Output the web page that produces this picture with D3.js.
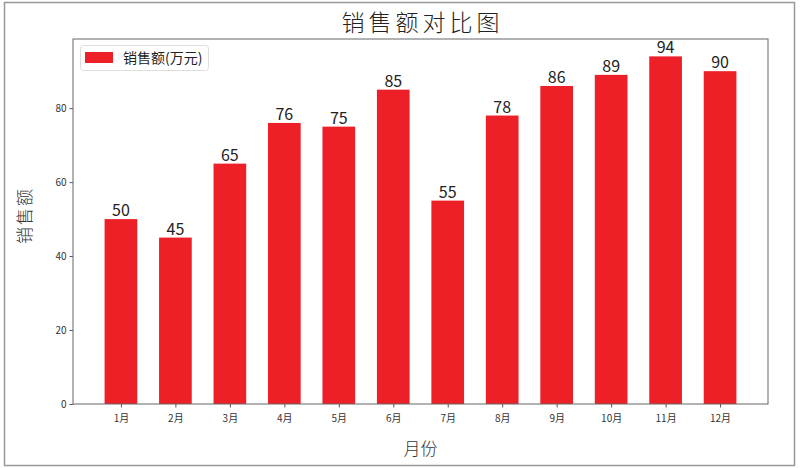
<!DOCTYPE html>
<html><head><meta charset="utf-8">
<script src="https://cdn.jsdelivr.net/npm/d3@7"></script>
<style>body{margin:0;background:#fff;}svg{display:block;}</style>
</head><body>
<script>
const months = ["1月","2月","3月","4月","5月","6月","7月","8月","9月","10月","11月","12月"];
const sales = [50,45,65,76,75,85,55,78,86,89,94,90];
const yTicks = [0,20,40,60,80];
const title = "销售额对比图";
const xLabel = "月份";
const yLabel = "销售额";
const legendLabel = "销售额(万元)";

const W = 800, H = 468;
const m = {l:73, r:32, t:39, b:64};
const svg = d3.select("body").append("svg").attr("width", W).attr("height", H);
const font = "'Noto Sans CJK SC', 'Noto Sans', sans-serif";
const barColor = "#ED1F27";

svg.append("rect").attr("x",4.5).attr("y",2.5).attr("width",790).attr("height",463)
  .attr("fill","#fff").attr("stroke","#999").attr("stroke-width",1.5);

const pw = W - m.l - m.r, ph = H - m.t - m.b;
const g = svg.append("g").attr("transform",`translate(${m.l},${m.t})`);

const n = months.length, bw = 0.6;
const span = (n - 1) + bw;
const x = d3.scaleLinear().domain([-bw/2 - 0.05*span, n-1 + bw/2 + 0.05*span]).range([0,pw]);
const ymax = d3.max(sales)*1.05;
const y = d3.scaleLinear().domain([0, ymax]).range([ph,0]);

g.selectAll("rect.bar").data(sales).join("rect").attr("class","bar")
  .attr("x",(d,i)=>x(i-bw/2)).attr("width",(d,i)=>x(i+bw/2)-x(i-bw/2))
  .attr("y",d=>y(d)).attr("height",d=>ph-y(d)).attr("fill",barColor);

g.selectAll("text.val").data(sales).join("text").attr("class","val")
  .attr("x",(d,i)=>x(i)).attr("y",d=>y(d)-3).attr("text-anchor","middle")
  .attr("font-family",font).attr("font-size",16).attr("fill","#222").text(d=>d);

const xa = g.append("g").attr("transform",`translate(0,${ph})`)
  .call(d3.axisBottom(x).tickValues(d3.range(n)).tickFormat(i=>months[i]).tickSizeOuter(0).tickSize(3.5));
const ya = g.append("g").call(d3.axisLeft(y).tickValues(yTicks).tickSizeOuter(0).tickSize(3.5));
[xa,ya].forEach(a=>{
  a.selectAll("text").attr("font-family",font).attr("font-size",10).attr("fill","#333");
  a.selectAll("line").attr("stroke","#555");
  a.select(".domain").remove();
});
xa.selectAll("text").attr("dy","1.1em");

g.append("rect").attr("x",0).attr("y",0).attr("width",pw).attr("height",ph)
  .attr("fill","none").attr("stroke","#666").attr("stroke-width",1);

// titles
svg.append("text").attr("x", m.l + pw/2 + 2).attr("y", 31).attr("text-anchor","middle")
  .attr("font-family",font).attr("font-size",23).attr("font-weight",300).attr("fill","#222").attr("letter-spacing",4).text(title);
svg.append("text").attr("x", m.l + pw/2).attr("y", 455).attr("text-anchor","middle")
  .attr("font-family",font).attr("font-size",17).attr("font-weight",300).attr("fill","#333").text(xLabel);
svg.append("text").attr("transform",`translate(31,${m.t+ph/2 - 6}) rotate(-90)`).attr("text-anchor","middle")
  .attr("font-family",font).attr("font-size",17).attr("font-weight",300).attr("letter-spacing",2).attr("fill","#333").text(yLabel);

// legend
const lg = svg.append("g").attr("transform",`translate(${m.l+7},${m.t+6})`);
lg.append("rect").attr("x",0.5).attr("y",0.5).attr("width",128).attr("height",25).attr("rx",3)
  .attr("fill","#fff").attr("stroke","#ddd");
lg.append("rect").attr("x",5).attr("y",7).attr("width",28).attr("height",11).attr("fill",barColor);
lg.append("text").attr("x",43).attr("y",18).attr("font-family",font).attr("font-size",14)
  .attr("fill","#222").text(legendLabel);
</script>
</body></html>
